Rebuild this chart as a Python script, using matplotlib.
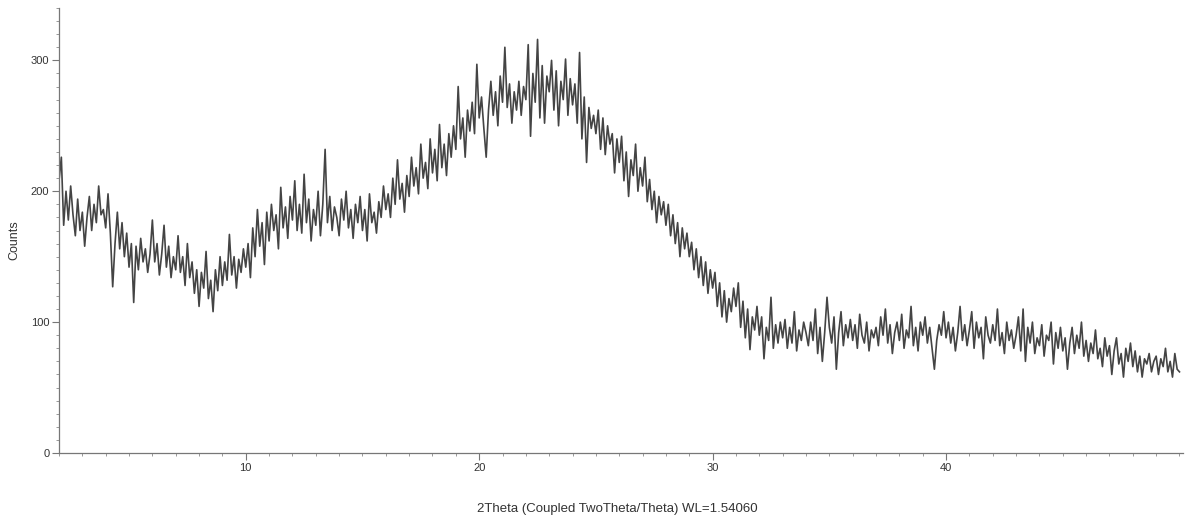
import matplotlib
matplotlib.use("Agg")
import matplotlib.pyplot as plt
import numpy as np
from matplotlib.ticker import MultipleLocator

plt.rcParams["font.family"] = ["Liberation Sans", "DejaVu Sans"]

# -- Data (one row per degree, 0.1 deg steps) --------------------------------

X_START = 2.0
X_STEP = 0.1

counts_rows = [
    [208, 226, 174, 200, 178, 204, 182, 166, 194, 170],  # 2
    [184, 158, 180, 196, 170, 190, 176, 204, 182, 186],  # 3
    [172, 198, 168, 127, 160, 184, 156, 176, 150, 168],  # 4
    [142, 160, 115, 158, 140, 164, 146, 156, 138, 152],  # 5
    [178, 146, 160, 136, 152, 174, 142, 158, 134, 150],  # 6
    [140, 166, 138, 150, 128, 160, 134, 146, 122, 140],  # 7
    [112, 138, 126, 154, 118, 132, 108, 140, 124, 150],  # 8
    [128, 146, 132, 167, 136, 150, 126, 148, 138, 156],  # 9
    [142, 160, 134, 172, 150, 186, 158, 176, 144, 184],  # 10
    [162, 190, 170, 182, 156, 203, 172, 188, 164, 196],  # 11
    [178, 208, 170, 190, 168, 213, 176, 194, 162, 186],  # 12
    [174, 200, 166, 190, 232, 176, 196, 170, 188, 180],  # 13
    [166, 194, 178, 200, 172, 186, 164, 190, 176, 196],  # 14
    [170, 186, 162, 198, 176, 184, 168, 192, 180, 204],  # 15
    [186, 198, 180, 210, 190, 224, 194, 206, 184, 212],  # 16
    [196, 226, 204, 218, 198, 236, 210, 222, 202, 240],  # 17
    [214, 232, 208, 251, 218, 236, 212, 244, 226, 250],  # 18
    [232, 280, 240, 256, 226, 262, 246, 268, 244, 297],  # 19
    [256, 272, 248, 226, 262, 284, 258, 276, 250, 288],  # 20
    [268, 310, 264, 282, 252, 276, 262, 284, 258, 280],  # 21
    [270, 312, 242, 290, 268, 316, 256, 296, 252, 288],  # 22
    [276, 300, 262, 292, 250, 284, 270, 301, 258, 286],  # 23
    [266, 282, 252, 306, 240, 272, 222, 264, 248, 258],  # 24
    [244, 262, 232, 256, 228, 250, 236, 244, 214, 240],  # 25
    [222, 242, 208, 230, 196, 224, 212, 236, 200, 218],  # 26
    [204, 226, 192, 209, 186, 200, 176, 196, 182, 192],  # 27
    [174, 190, 166, 182, 160, 176, 150, 172, 156, 168],  # 28
    [150, 161, 140, 156, 134, 150, 128, 146, 122, 140],  # 29
    [126, 138, 112, 130, 104, 124, 100, 118, 108, 126],  # 30
    [112, 130, 96, 116, 88, 110, 79, 104, 94, 112],      # 31
    [90, 104, 72, 96, 86, 119, 80, 98, 84, 100],         # 32
    [88, 102, 80, 96, 84, 108, 78, 94, 86, 100],         # 33
    [92, 82, 100, 86, 110, 76, 96, 70, 92, 119],         # 34
    [96, 84, 104, 64, 92, 108, 82, 98, 88, 102],         # 35
    [86, 98, 80, 106, 90, 84, 100, 78, 94, 88],          # 36
    [96, 82, 104, 90, 110, 84, 98, 76, 92, 100],         # 37
    [86, 106, 80, 94, 88, 112, 82, 96, 78, 100],         # 38
    [90, 104, 84, 96, 80, 64, 86, 98, 90, 108],          # 39
    [88, 100, 84, 96, 78, 92, 112, 86, 98, 82],          # 40
    [94, 108, 80, 100, 88, 96, 72, 104, 90, 84],         # 41
    [98, 86, 110, 82, 92, 76, 100, 86, 94, 80],          # 42
    [90, 104, 78, 110, 70, 96, 84, 100, 76, 88],         # 43
    [82, 98, 74, 90, 86, 100, 68, 92, 80, 96],           # 44
    [78, 88, 64, 84, 96, 76, 90, 80, 100, 74],           # 45
    [86, 70, 84, 76, 94, 72, 80, 66, 88, 74],            # 46
    [82, 60, 78, 88, 68, 76, 58, 80, 70, 84],            # 47
    [66, 78, 62, 74, 58, 72, 68, 76, 62, 70],            # 48
    [74, 60, 72, 66, 80, 62, 70, 58, 76, 64],            # 49
    [62],                                                # 50
]

X_TICKS = [10, 20, 30, 40]
Y_TICKS = [0, 100, 200, 300]
X_LABEL = "2Theta (Coupled TwoTheta/Theta) WL=1.54060"
Y_LABEL = "Counts"

counts = np.array([v for row in counts_rows for v in row], dtype=float)
two_theta = X_START + X_STEP * np.arange(len(counts))

# -- Plot --------------------------------------------------------------------

fig = plt.figure(figsize=(12.03, 5.28), dpi=100)
ax = fig.add_axes([59 / 1203, 75 / 528, 1124 / 1203, 445 / 528])

ax.plot(two_theta, counts, color="#444444", linewidth=1.2)

ax.set_xlim(2.0, 50.15)
ax.set_ylim(0, 340)

for side in ("top", "right"):
    ax.spines[side].set_visible(False)
for side in ("left", "bottom"):
    ax.spines[side].set_color("#777777")
    ax.spines[side].set_linewidth(0.9)

ax.set_xticks(X_TICKS)
ax.set_yticks(Y_TICKS)
ax.xaxis.set_minor_locator(MultipleLocator(1))
ax.yaxis.set_minor_locator(MultipleLocator(10))
ax.tick_params(which="major", length=5, width=0.8, color="#777777",
               labelsize=8, labelcolor="#333333", pad=2)
ax.tick_params(which="minor", length=2.5, width=0.6, color="#888888")

ax.set_xlabel(X_LABEL, fontsize=9.5, color="#333333")
ax.set_ylabel(Y_LABEL, fontsize=9, color="#333333")
ax.xaxis.set_label_coords(0.497, -0.112)
ax.yaxis.set_label_coords(-0.034, 0.479)

fig.savefig("out.png", dpi=100)
